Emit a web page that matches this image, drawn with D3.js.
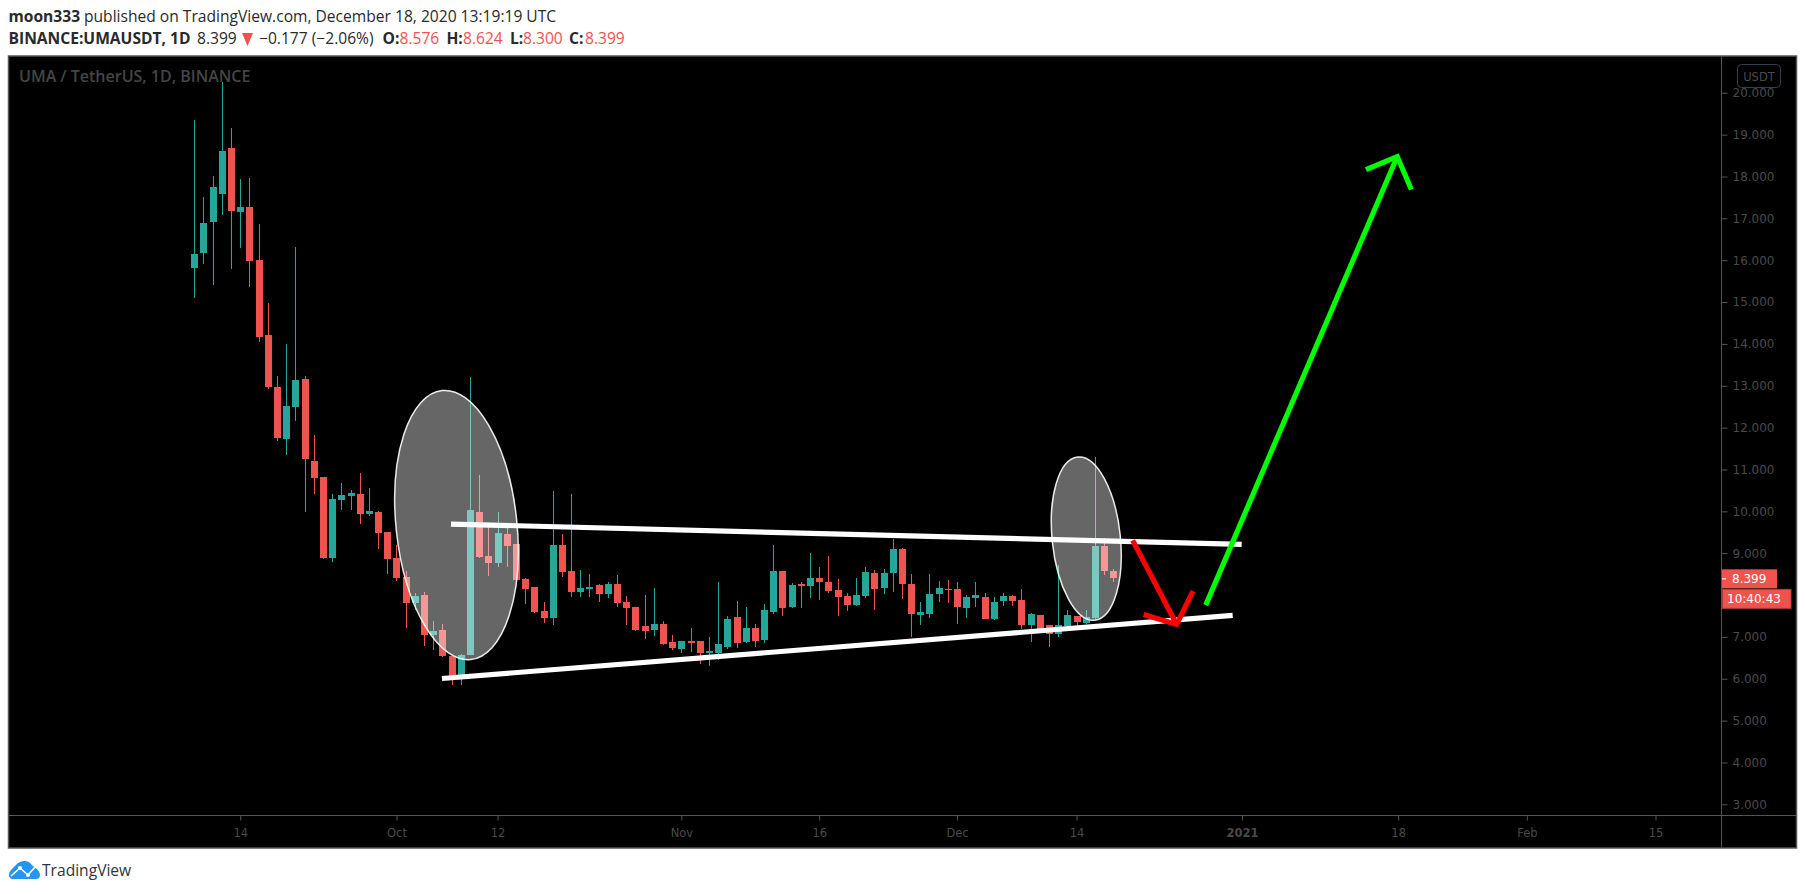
<!DOCTYPE html>
<html>
<head>
<meta charset="utf-8">
<script src="https://d3js.org/d3.v7.min.js"></script>
<style>html,body{margin:0;padding:0;background:#fff;overflow:hidden}svg{display:block}</style>
</head>
<body>
<svg id="c" width="1805" height="894"></svg>
<script>
const startDate = "2020-09-09";
const opens = [15.82,16.18,16.92,17.59,18.69,17.14,17.28,16.01,14.22,12.97,11.73,12.50,13.17,11.20,10.82,8.88,10.27,10.37,10.41,9.94,9.98,9.50,8.88,8.43,7.81,8.00,7.04,7.16,6.54,6.06,6.56,9.98,8.93,8.76,9.46,9.22,8.38,8.19,7.61,7.45,9.19,8.57,8.07,8.14,8.24,8.02,8.26,7.83,7.71,7.26,7.16,7.30,6.87,6.71,6.90,6.90,6.61,6.61,6.75,7.47,6.87,7.21,6.92,7.59,8.57,7.71,8.26,8.21,8.40,8.31,8.12,7.97,7.76,7.97,8.52,8.17,8.52,9.10,8.26,7.52,7.54,8.02,8.14,8.14,7.69,7.93,7.95,7.42,7.85,7.97,7.88,7.28,7.52,7.28,7.07,7.26,7.50,7.34,7.45,9.17,8.576];
const highs = [19.34,17.52,18.02,20.25,19.17,17.95,17.97,16.87,14.98,13.24,14.00,16.32,13.24,11.83,10.82,10.41,10.68,10.51,10.92,10.56,10.01,9.50,9.19,8.57,8.05,8.07,7.38,7.30,6.54,6.59,13.21,10.87,9.65,9.98,9.60,9.22,8.40,8.19,7.83,10.49,9.46,10.41,8.60,8.50,8.26,8.31,8.48,7.97,7.71,8.00,8.17,7.38,7.04,6.90,7.21,6.90,6.99,8.31,7.50,7.85,7.71,7.30,7.78,9.19,8.57,8.28,8.31,9.00,8.67,8.93,8.38,8.05,8.40,8.67,8.60,8.62,9.34,9.12,8.50,7.83,8.50,8.33,8.36,8.31,8.00,8.31,8.05,7.95,8.05,8.00,8.14,7.57,7.52,7.28,8.72,7.64,7.50,7.64,11.30,9.36,8.624];
const lows = [15.10,15.92,15.41,17.07,15.80,16.30,15.37,14.05,12.93,11.68,11.35,12.16,9.98,10.41,8.86,8.79,10.03,10.03,9.70,9.89,9.10,8.50,8.33,7.21,7.64,6.78,6.68,6.51,5.84,5.84,6.56,8.88,8.45,8.67,8.67,8.35,7.78,7.57,7.33,7.28,8.43,7.95,7.95,7.95,7.83,7.93,7.71,7.28,7.14,6.95,7.02,6.80,6.68,6.61,6.63,6.35,6.30,6.44,6.71,6.73,6.85,6.75,6.85,7.54,7.50,7.69,7.69,7.93,7.88,8.05,7.50,7.61,7.73,7.93,7.64,8.02,8.07,7.90,6.99,7.28,7.45,7.83,7.81,7.30,7.45,7.71,7.42,7.40,7.73,7.73,7.18,6.87,7.18,6.75,6.99,7.26,7.26,7.30,7.42,8.48,8.300];
const closes = [16.16,16.90,17.74,18.60,17.18,17.28,15.99,14.17,12.97,11.75,12.52,13.14,11.25,10.80,8.88,10.29,10.39,10.44,9.94,10.01,9.48,8.86,8.40,7.81,7.97,7.04,7.14,6.54,6.06,6.56,10.03,8.91,8.76,9.48,9.17,8.36,8.14,7.59,7.45,9.19,8.55,8.07,8.17,8.19,8.02,8.26,7.81,7.69,7.16,7.14,7.30,6.83,6.73,6.90,6.85,6.61,6.66,6.83,7.42,6.85,7.21,6.90,7.64,8.57,7.69,8.24,8.21,8.40,8.31,8.09,7.95,7.76,8.00,8.55,8.14,8.52,9.10,8.26,7.54,7.59,8.02,8.17,8.12,7.71,7.95,8.00,7.42,7.83,7.97,7.85,7.28,7.54,7.18,7.07,7.28,7.52,7.35,7.47,9.17,8.58,8.399];
const priceTicks = [3,4,5,6,7,9,10,11,12,13,14,15,16,17,18,19,20];
const dateTicks = ["2020-09-14","2020-10-01","2020-10-12","2020-11-01","2020-11-16","2020-12-01","2020-12-14","2021-01-01","2021-01-18","2021-02-01","2021-02-15"];
const dateLabels = ["14","Oct","12","Nov","16","Dec","14","2021","18","Feb","15"];
// drawings: [days since startDate, price]
const upperLine = [[27.93,9.696],[113.97,9.211]];
const lowerLine = [[26.95,6.005],[112.99,7.512]];
const redShaft = [[102.11,9.306],[106.90,7.297]];
const redHead = [[103.30,7.536],[106.90,7.297],[108.67,8.093]];
const greenShaft = [[110.06,7.759],[130.90,18.476]];
const greenHead = [[127.49,18.165],[130.90,18.476],[132.43,17.687]];
const ellipseCenters = [[28.53,9.672],[97.06,9.349]];
const ellipseTips = [[30.10,6.459],[97.99,7.40]];
const ellipseMinorDays = [6.57,3.71];

const UP="#26a69a", DOWN="#ef5350", AXIS="#555555", LABEL="#4a4a4a";
const t0 = new Date(startDate+"T00:00:00Z");
const day = d => t0.getTime() + d*864e5;
const svg = d3.select("#c");
const x = d3.scaleUtc().domain([t0, new Date("2021-02-15T00:00:00Z")]).range([194.3, 1655.5]);
const y = d3.scaleLinear().domain([3,20]).range([804.3,92.8]);
const px = p => [x(day(p[0])), y(p[1])];
const line = d3.line().x(d=>px(d)[0]).y(d=>px(d)[1]);

// panel
svg.append("rect").attr("x",8.5).attr("y",56).attr("width",1788).attr("height",792)
  .attr("fill","#000").attr("stroke",AXIS).attr("stroke-width",1.5);

// watermark
svg.append("text").attr("x",19).attr("y",82).attr("fill","#454545")
  .attr("font-family","'Open Sans',sans-serif").attr("font-weight",600).attr("font-size",16)
  .text("UMA / TetherUS, 1D, BINANCE");

// candles
const candles = opens.map((o,i)=>({o,h:highs[i],l:lows[i],c:closes[i],d:d3.utcDay.offset(t0,i)}));
const g = svg.append("g").attr("shape-rendering","crispEdges");
g.selectAll("rect.w").data(candles).join("rect").attr("class","w")
  .attr("x",d=>Math.round(x(d.d))).attr("width",1)
  .attr("y",d=>y(d.h)).attr("height",d=>y(d.l)-y(d.h))
  .attr("fill",d=>d.c>=d.o?UP:DOWN);
g.selectAll("rect.b").data(candles).join("rect").attr("class","b")
  .attr("x",d=>Math.round(x(d.d))-3).attr("width",7)
  .attr("y",d=>y(Math.max(d.o,d.c))).attr("height",d=>Math.max(1,y(Math.min(d.o,d.c))-y(Math.max(d.o,d.c))))
  .attr("fill",d=>d.c>=d.o?UP:DOWN);

// ellipses
ellipseCenters.forEach((c,i)=>{
  const [cx,cy]=px(c),[tx,ty]=px(ellipseTips[i]);
  const rx=Math.hypot(tx-cx,ty-cy), ang=Math.atan2(ty-cy,tx-cx)*180/Math.PI;
  const ry=x(day(ellipseMinorDays[i]))-x(day(0));
  svg.append("ellipse").attr("cx",cx).attr("cy",cy).attr("rx",rx).attr("ry",ry)
    .attr("transform",`rotate(${ang} ${cx} ${cy})`)
    .attr("fill","#ffffff").attr("fill-opacity",0.4).attr("stroke","#ffffff").attr("stroke-opacity",0.9).attr("stroke-width",1.5);
});

// drawn lines
[[upperLine,"#fff"],[lowerLine,"#fff"],[redShaft,"#ff0000"],[redHead,"#ff0000"],[greenShaft,"#00ff00"],[greenHead,"#00ff00"]].forEach(([p,col])=>{
  svg.append("path").attr("d",line(p)).attr("fill","none").attr("stroke",col).attr("stroke-width",5.2)
    .attr("stroke-linejoin","miter");
});

// axes
svg.append("rect").attr("x",8).attr("y",815).attr("width",1788).attr("height",1).attr("fill",AXIS);
svg.append("rect").attr("x",1721).attr("y",56).attr("width",1).attr("height",792).attr("fill",AXIS);
const yAxis = d3.axisRight(y).tickValues(priceTicks).tickFormat(d3.format(".3f")).tickSize(6).tickPadding(5);
const ya = svg.append("g").attr("transform","translate(1721.5,0)").call(yAxis);
ya.select(".domain").remove();
ya.selectAll("line").attr("stroke",AXIS);
ya.selectAll("text").attr("fill",LABEL).attr("font-family","'DejaVu Sans',sans-serif").attr("font-size",12);
const xAxis = d3.axisBottom(x).tickValues(dateTicks.map(s=>new Date(s+"T00:00:00Z")))
  .tickFormat((d,i)=>dateLabels[i]).tickSize(5).tickPadding(8);
const xa = svg.append("g").attr("transform","translate(0,815.5)").call(xAxis);
xa.select(".domain").remove();
xa.selectAll("line").attr("stroke",AXIS);
xa.selectAll("text").attr("fill",LABEL).attr("font-family","'DejaVu Sans',sans-serif").attr("font-size",11.5)
  .attr("font-weight",(d,i)=>dateLabels[i]==="2021"?"bold":"normal");

// USDT badge
svg.append("rect").attr("x",1737.5).attr("y",64.5).attr("width",43).attr("height",23).attr("rx",4)
  .attr("fill","#000").attr("stroke","#363c4e");
svg.append("text").attr("x",1759).attr("y",80.5).attr("text-anchor","middle").attr("fill",LABEL)
  .attr("font-family","'DejaVu Sans',sans-serif").attr("font-size",11.5).text("USDT");

// last price tags
const lastY = y(closes[closes.length-1]);
svg.append("rect").attr("x",1722).attr("y",lastY-9).attr("width",55).attr("height",19).attr("fill",DOWN);
svg.append("rect").attr("x",1722).attr("y",lastY).attr("width",4).attr("height",1).attr("fill","#fff");
svg.append("text").attr("x",1732).attr("y",lastY+5).attr("fill","#fff").attr("font-family","'DejaVu Sans',sans-serif").attr("font-size",12)
  .text(d3.format(".3f")(closes[closes.length-1]));
svg.append("rect").attr("x",1722.5).attr("y",lastY+11).attr("width",68.5).attr("height",19).attr("fill",DOWN).attr("stroke","#b23c3a");
svg.append("text").attr("x",1727).attr("y",lastY+25).attr("fill","#fff").attr("font-family","'DejaVu Sans',sans-serif").attr("font-size",12)
  .text("10:40:43");

// header
const F="'Open Sans',sans-serif";
function t(xp,yp,s,opt={}){return svg.append("text").attr("x",xp).attr("y",yp).attr("font-family",F)
  .attr("font-size",opt.size||15.6).attr("font-weight",opt.bold?700:400).attr("fill",opt.fill||"#2a2a2a").text(s);}
t(8.5,22,"moon333",{bold:true});
t(84,22,"published on TradingView.com, December 18, 2020 13:19:19 UTC");
t(8.5,44,"BINANCE:UMAUSDT, 1D",{bold:true});
t(197,44,"8.399");
svg.append("path").attr("d","M242 33L253 33L247.5 46Z").attr("fill",DOWN);
t(259,44,"−0.177 (−2.06%)");
[["O:",382.6,"8.576",399.5],["H:",446.4,"8.624",463],["L:",510,"8.300",523],["C:",569,"8.399",585]].forEach(r=>{
  t(r[1],44,r[0],{bold:true}); t(r[3],44,r[2],{fill:DOWN});
});

// logo
const logo = svg.append("g").attr("fill","#2196f3");
logo.append("path").attr("d","M9 875C9 871 13 868 15 866C18 862 22 861 25 861C29 861 31 864 33 866C36 868 40 871 40 875C40 878 38 879 36 879L13 879C11 879 9 878 9 875Z");
logo.append("polyline").attr("points","11,876 20,868 28,875 36,866").attr("fill","none").attr("stroke","#fff").attr("stroke-width",1.6);
logo.selectAll("circle").data([[20,868],[28,875]]).join("circle").attr("cx",d=>d[0]).attr("cy",d=>d[1]).attr("r",2).attr("fill","#fff");
t(42,876,"TradingView",{size:15.6,fill:"#333"});
</script>
</body>
</html>
